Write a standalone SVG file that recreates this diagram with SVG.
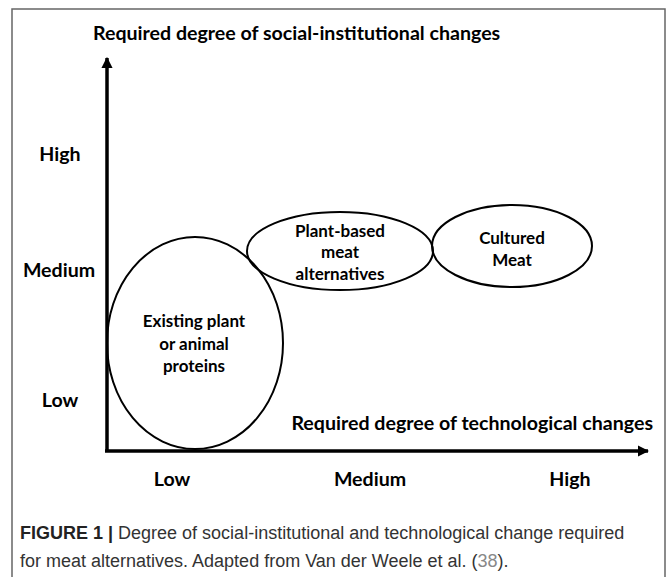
<svg xmlns="http://www.w3.org/2000/svg" width="668" height="577" viewBox="0 0 668 577">
<defs>
<style>
.lbl{font-family:Lato,"Open Sans","Liberation Sans",sans-serif;font-weight:bold;font-size:17px;fill:#000}
.axl{font-family:Lato,"Open Sans","Liberation Sans",sans-serif;font-weight:bold;font-size:19.6px;fill:#000}
.nd{fill:none;stroke:#000;stroke-width:2}
.ax{stroke:#000;stroke-width:3.5;fill:none}
.cap{font-family:"Liberation Sans",Arial,sans-serif;font-size:18px;fill:#333}
</style>
<marker id="ah" viewBox="0 0 10 10" refX="9" refY="5" markerWidth="3.2" markerHeight="3.2" orient="auto" markerUnits="strokeWidth">
<path d="M0,0 L10,5 L0,10 z" fill="#000"/>
</marker>
</defs>
<rect x="0" y="0" width="668" height="577" fill="#fff"/>
<path d="M12,600 L12,9 L665,9 L665,600" fill="none" stroke="#666" stroke-width="1.5"/>
<g id="connectors">
<line class="ax" x1="107" y1="452" x2="107" y2="58" marker-end="url(#ah)"/>
<line class="ax" x1="105" y1="451" x2="648" y2="451" marker-end="url(#ah)"/>
</g>
<text class="axl" x="93" y="40">Required degree of social-institutional changes</text>
<text class="axl" x="653" y="430" text-anchor="end">Required degree of technological changes</text>
<g text-anchor="middle">
<text class="axl" x="60" y="161">High</text>
<text class="axl" x="59" y="277">Medium</text>
<text class="axl" x="60" y="407">Low</text>
<text class="axl" x="172" y="486">Low</text>
<text class="axl" x="370" y="486">Medium</text>
<text class="axl" x="570" y="486">High</text>
</g>
<g id="existing">
<ellipse class="nd" cx="195" cy="343" rx="88" ry="106"/>
<text class="lbl" text-anchor="middle"><tspan x="194" y="327">Existing plant</tspan><tspan x="194" y="350">or animal</tspan><tspan x="194" y="372">proteins</tspan></text>
</g>
<g id="plantbased">
<ellipse class="nd" cx="340" cy="251" rx="93" ry="39"/>
<text class="lbl" text-anchor="middle"><tspan x="340" y="237">Plant-based</tspan><tspan x="340" y="258">meat</tspan><tspan x="340" y="280">alternatives</tspan></text>
</g>
<g id="cultured">
<ellipse class="nd" cx="512" cy="246" rx="80" ry="41"/>
<text class="lbl" text-anchor="middle"><tspan x="512" y="244">Cultured</tspan><tspan x="512" y="266">Meat</tspan></text>
</g>
<text class="cap" x="20" y="539"><tspan font-weight="bold" fill="#222">FIGURE 1 | </tspan>Degree of social-institutional and technological change required</text>
<text class="cap" x="20" y="567">for meat alternatives. Adapted from Van der Weele et al. (<tspan fill="#888">38</tspan>).</text>
</svg>
